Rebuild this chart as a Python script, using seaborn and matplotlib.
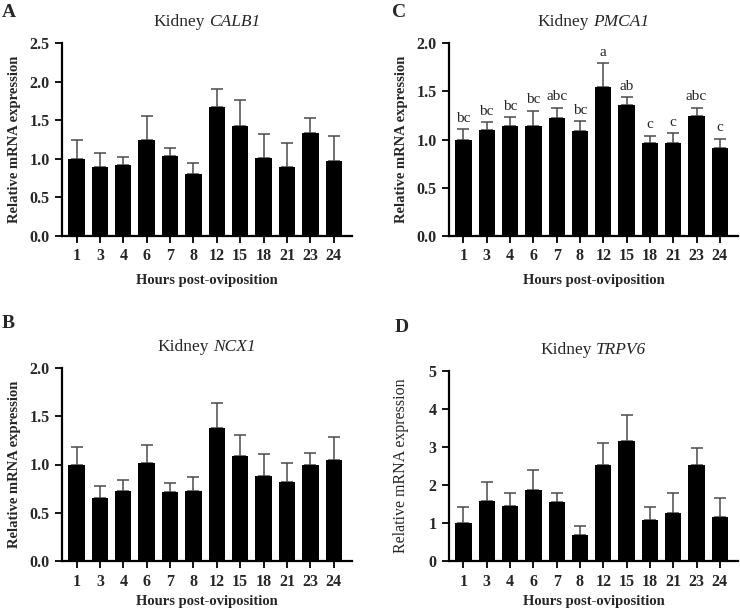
import numpy as np
import pandas as pd
import matplotlib
matplotlib.use("Agg")
import matplotlib.pyplot as plt
import seaborn as sns

hours = ["1", "3", "4", "6", "7", "8", "12", "15", "18", "21", "23", "24"]

calb1_mean = [1.00, 0.90, 0.92, 1.24, 1.03, 0.80, 1.67, 1.43, 1.01, 0.90, 1.34, 0.97]
calb1_sem = [0.24, 0.18, 0.10, 0.31, 0.11, 0.14, 0.24, 0.33, 0.31, 0.31, 0.19, 0.32]

pmca1_mean = [1.00, 1.10, 1.14, 1.14, 1.22, 1.09, 1.54, 1.36, 0.96, 0.96, 1.24, 0.91]
pmca1_sem = [0.11, 0.08, 0.09, 0.16, 0.11, 0.10, 0.25, 0.08, 0.08, 0.11, 0.09, 0.10]
pmca1_letters = ["bc", "bc", "bc", "bc", "abc", "bc", "a", "ab", "c", "c", "abc", "c"]

ncx1_mean = [1.00, 0.65, 0.73, 1.02, 0.72, 0.73, 1.38, 1.09, 0.88, 0.82, 0.99, 1.05]
ncx1_sem = [0.18, 0.13, 0.11, 0.18, 0.09, 0.14, 0.26, 0.22, 0.23, 0.20, 0.13, 0.23]

trpv6_mean = [1.00, 1.59, 1.45, 1.88, 1.55, 0.68, 2.52, 3.15, 1.07, 1.27, 2.52, 1.17]
trpv6_sem = [0.43, 0.48, 0.34, 0.51, 0.24, 0.24, 0.58, 0.68, 0.35, 0.51, 0.46, 0.49]

sns.set_style("ticks")
plt.rcParams["font.family"] = ["Liberation Serif", "DejaVu Serif"]

W, H = 740, 612
fig = plt.figure(figsize=(W / 100, H / 100), dpi=100)


def px_axes(left, top, right, bottom):
    return fig.add_axes([left / W, 1 - bottom / H, (right - left) / W, (bottom - top) / H])


panels = [
    dict(box=(62, 43, 352, 236), gene="CALB1", mean=calb1_mean, sem=calb1_sem,
         ylim=2.5, yticks=[0, 0.5, 1.0, 1.5, 2.0, 2.5], integer=False, letter="A",
         lpos=(2, 4), letters=None, ylab_bold=True, ylabpad=6, xlabpad=7),
    dict(box=(449, 43, 738, 236), gene="PMCA1", mean=pmca1_mean, sem=pmca1_sem,
         ylim=2.0, yticks=[0, 0.5, 1.0, 1.5, 2.0], integer=False, letter="C",
         lpos=(392, 4), letters=pmca1_letters, ylab_bold=True, ylabpad=6, xlabpad=7),
    dict(box=(62, 368, 352, 561), gene="NCX1", mean=ncx1_mean, sem=ncx1_sem,
         ylim=2.0, yticks=[0, 0.5, 1.0, 1.5, 2.0], integer=False, letter="B",
         lpos=(2, 315), letters=None, ylab_bold=True, ylabpad=6, xlabpad=4),
    dict(box=(449, 371, 738, 561), gene="TRPV6", mean=trpv6_mean, sem=trpv6_sem,
         ylim=5, yticks=[0, 1, 2, 3, 4, 5], integer=True, letter="D",
         lpos=(395, 319), letters=None, ylab_bold=False, ylabpad=14, xlabpad=4),
]

titles = []
for p in panels:
    ax = px_axes(*p["box"])
    df = pd.DataFrame({"Hours": hours, "Expression": p["mean"], "SEM": p["sem"]})
    sns.barplot(data=df, x="Hours", y="Expression", color="black", saturation=1,
                width=0.7, order=hours, errorbar=None, ax=ax, linewidth=0)
    for patch in ax.patches:
        patch.set_zorder(2)
        patch.set_edgecolor("black")
    xs = np.arange(len(hours))
    ax.errorbar(xs, df["Expression"], yerr=[np.zeros(len(hours)), df["SEM"]],
                fmt="none", ecolor="#4a4a4a", elinewidth=1.1, capsize=4,
                capthick=1.1, zorder=1)
    if p["letters"]:
        for x, m, s, t in zip(xs, df["Expression"], df["SEM"], p["letters"]):
            ax.annotate(t, xy=(x, m + s), xytext=(0, 3), textcoords="offset points",
                        ha="center", va="bottom", fontsize=11)
    ax.set_xlim(-0.62, 11.78)
    ax.set_ylim(0, p["ylim"])
    if p["integer"]:
        ylabels = [str(int(v)) for v in p["yticks"]]
    else:
        ylabels = ["{:.1f}".format(v) for v in p["yticks"]]
    ax.set_yticks(p["yticks"], ylabels, fontweight="bold", fontsize=11.5)
    ax.set_xticks(xs, hours, fontweight="bold", fontsize=11.5)
    for s in ["top", "right"]:
        ax.spines[s].set_visible(False)
    for s in ["left", "bottom"]:
        ax.spines[s].set_linewidth(1.6)
        ax.spines[s].set_color("black")
        ax.spines[s].set_zorder(5)
    ax.tick_params(axis="both", direction="out", length=5, width=1.3, color="black",
                   pad=4)
    ax.set_xlabel("Hours post-oviposition", fontsize=10.5, fontweight="bold",
                  labelpad=p["xlabpad"])
    if p["ylab_bold"]:
        ax.set_ylabel("Relative mRNA expression", fontsize=10.5, fontweight="bold",
                      labelpad=p["ylabpad"])
    else:
        ax.set_ylabel("Relative mRNA expression", fontsize=11.5, fontweight="normal",
                      labelpad=p["ylabpad"])
    # title: "Kidney " regular + gene italic, centred over the axes
    t1 = ax.text(0.5, 1.0, "Kidney", transform=ax.transAxes, fontsize=12.5,
                 ha="left", va="bottom")
    t2 = ax.text(0.5, 1.0, p["gene"], transform=ax.transAxes, fontsize=12.5,
                 style="italic", ha="left", va="bottom")
    titles.append((ax, t1, t2))
    fig.text(p["lpos"][0] / W, 1 - p["lpos"][1] / H, p["letter"], fontsize=14,
             fontweight="bold", ha="left", va="top")

fig.canvas.draw()
renderer = fig.canvas.get_renderer()
for ax, t1, t2 in titles:
    w1 = t1.get_window_extent(renderer).width
    w2 = t2.get_window_extent(renderer).width
    gap = 4.0
    total = w1 + gap + w2
    bbox = ax.get_window_extent(renderer)
    cx = (bbox.x0 + bbox.x1) / 2
    ytop = bbox.y1 + 13
    inv = fig.transFigure.inverted()
    x1, y1 = inv.transform((cx - total / 2, ytop))
    x2, _ = inv.transform((cx - total / 2 + w1 + gap, ytop))
    t1.set_transform(fig.transFigure)
    t2.set_transform(fig.transFigure)
    t1.set_position((x1, y1))
    t2.set_position((x2, y1))

fig.savefig("out.png", dpi=100)
